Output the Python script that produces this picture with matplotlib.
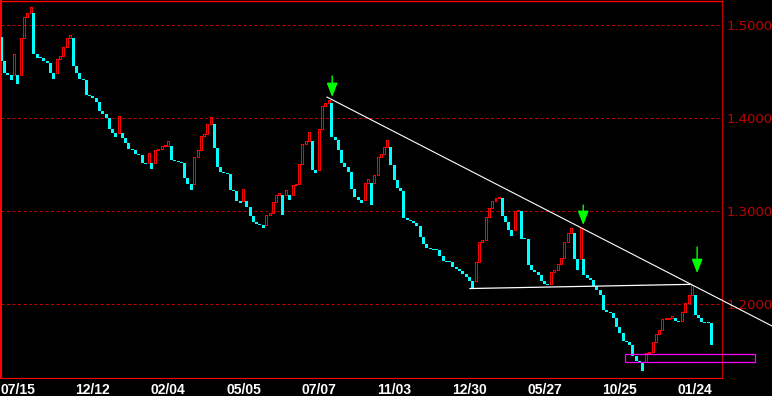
import matplotlib
matplotlib.use("Agg")
import matplotlib.pyplot as plt
from matplotlib.patches import Rectangle

# line-break chart: each column is one "line", the close of that line
first_open = 1.4874
closes = [
    1.4616, 1.4490, 1.4469, 1.4412, 1.4691, 1.4369, 1.4863, 1.5089, 1.5129, 1.5197,
    1.4691, 1.4652, 1.4648, 1.4616, 1.4591, 1.4490, 1.4423, 1.4638, 1.4670, 1.4767,
    1.4863, 1.4896, 1.4562, 1.4487, 1.4423, 1.4417, 1.4250, 1.4240, 1.4218, 1.4175,
    1.4078, 1.4046, 1.4003, 1.3885, 1.3842, 1.3799, 1.4025, 1.3788, 1.3734, 1.3670,
    1.3659, 1.3616, 1.3605, 1.3519, 1.3509, 1.3627, 1.3455, 1.3659, 1.3670, 1.3702,
    1.3707, 1.3756, 1.3552, 1.3541, 1.3535, 1.3519, 1.3358, 1.3293, 1.3229, 1.3584,
    1.3659, 1.3810, 1.3831, 1.3939, 1.4014, 1.3681, 1.3476, 1.3422, 1.3417, 1.3401,
    1.3229, 1.3224, 1.3111, 1.3089, 1.3240, 1.3046, 1.2949, 1.2885, 1.2863, 1.2853,
    1.2820, 1.2960, 1.2982, 1.3100, 1.3175, 1.3197, 1.2960, 1.3229, 1.3121, 1.3283,
    1.3293, 1.3509, 1.3724, 1.3756, 1.3853, 1.3444, 1.3412, 1.3885, 1.4132, 1.4164,
    1.4197, 1.3799, 1.3767, 1.3659, 1.3519, 1.3476, 1.3422, 1.3240, 1.3154, 1.3121,
    1.3089, 1.3304, 1.3347, 1.3068, 1.3390, 1.3584, 1.3616, 1.3691, 1.3767, 1.3498,
    1.3336, 1.3250, 1.3218, 1.2928, 1.2906, 1.2896, 1.2874, 1.2842, 1.2724, 1.2648,
    1.2605, 1.2595, 1.2584, 1.2581, 1.2519, 1.2465, 1.2455, 1.2452, 1.2401, 1.2379,
    1.2358, 1.2326, 1.2293, 1.2250, 1.2175, 1.2455, 1.2670, 1.2691, 1.2939, 1.3035,
    1.3111, 1.3143, 1.3154, 1.2949, 1.2885, 1.2799, 1.2734, 1.3003, 1.3014, 1.2702,
    1.2699, 1.2422, 1.2369, 1.2347, 1.2315, 1.2250, 1.2218, 1.2207, 1.2347, 1.2369,
    1.2433, 1.2498, 1.2670, 1.2767, 1.2820, 1.2487, 1.2369, 1.2820, 1.2315, 1.2283,
    1.2261, 1.2197, 1.2154, 1.2100, 1.1939, 1.1917, 1.1906, 1.1853, 1.1756, 1.1691,
    1.1605, 1.1594, 1.1562, 1.1444, 1.1390, 1.1379, 1.1283, 1.1476, 1.1487, 1.1594,
    1.1680, 1.1724, 1.1842, 1.1845, 1.1848, 1.1874, 1.1820, 1.1810, 1.1917, 1.2014,
    1.2100, 1.2207, 1.1885, 1.1853, 1.1810, 1.1804, 1.1799, 1.1562,
]

date_labels = ["07/15", "12/12", "02/04", "05/05", "07/07",
               "11/03", "12/30", "05/27", "10/25", "01/24"]
label_cols = [5, 28, 51, 74, 97, 120, 143, 166, 189, 212]
price_ticks = [1.2, 1.3, 1.4, 1.5]

# drawn annotations (column index, price)
trend_x = [99.5, 235.5]
trend_y = [1.4229, 1.1767]
support_x = [143.2, 210.4]
support_y = [1.2170, 1.2215]
arrow_x = [101.1, 177.8, 212.6]
arrow_tip = [1.4229, 1.2853, 1.2336]
arrow_len = [0.0226, 0.0215, 0.0280]
box_x = [190.6, 230.3]
box_y = [1.1379, 1.1465]

W, H = 772, 396
fig = plt.figure(figsize=(W / 100, H / 100), dpi=100, facecolor="black")
ax = fig.add_axes([1 / W, 18 / H, 721 / W, 377.5 / H])
ax.set_facecolor("black")
ax.set_xlim(-0.08, 220.2)
ax.set_ylim(1.1208, 1.5267)

one_px = (1.5267 - 1.1208) / 377.5

# work out where each line starts (line break rules)
opens = []
for i, c in enumerate(closes):
    if i == 0:
        o = first_open
    else:
        pc, po = closes[i - 1], opens[i - 1]
        up = c > pc
        prev_up = pc > po
        o = pc if up == prev_up else po
    opens.append(o)

for t in price_ticks:
    ax.axhline(t, color="#c00000", lw=0.72, ls=(0, (3, 2.5)), zorder=1)

for i, (o, c) in enumerate(zip(opens, closes)):
    lo, hi = min(o, c), max(o, c)
    if hi - lo < one_px:
        hi = lo + one_px
    if c > o:
        ax.add_patch(Rectangle((i - 0.305, lo), 0.61, hi - lo, fill=False,
                               edgecolor="#ff0000", lw=0.72, zorder=3,
                               antialiased=False))
    else:
        ax.add_patch(Rectangle((i - 0.458, lo), 0.917, hi - lo,
                               facecolor="#00ffff", lw=0, zorder=3,
                               antialiased=False))

ax.plot(trend_x, trend_y, color="white", lw=0.8, clip_on=False, zorder=4)
ax.plot(support_x, support_y, color="white", lw=0.9, zorder=4)
ax.add_patch(Rectangle((box_x[0], box_y[0]), box_x[1] - box_x[0], box_y[1] - box_y[0],
                       fill=False, edgecolor="#ff00ff", lw=0.9, clip_on=False,
                       zorder=5))

for x, tip, ln in zip(arrow_x, arrow_tip, arrow_len):
    ax.annotate("", xy=(x, tip), xytext=(x, tip + ln),
                arrowprops=dict(arrowstyle="-|>,head_length=0.85,head_width=0.33",
                                mutation_scale=10, color="#00ff00", lw=1,
                                shrinkA=0, shrinkB=0), zorder=6)

for side in ["left", "top", "bottom"]:
    ax.spines[side].set_color("#ff0000")
ax.spines["left"].set_linewidth(1.5)
ax.spines["top"].set_linewidth(1.0)
ax.spines["bottom"].set_linewidth(0.8)
ax.spines["right"].set_color("#c00000")
ax.spines["right"].set_linewidth(0.8)

ax.yaxis.tick_right()
ax.set_yticks(price_ticks)
ax.set_yticklabels(["%.4f" % t for t in price_ticks],
                   family=["Liberation Sans Narrow", "DejaVu Sans"])
ax.tick_params(axis="y", length=0, pad=3.6, labelcolor="#c00000", labelsize=9.5)

ax.set_xticks(label_cols)
ax.set_xticklabels(date_labels, family=["Liberation Sans", "DejaVu Sans"],
                   fontweight="bold")
ax.tick_params(axis="x", length=0, pad=3.5, labelcolor="white", labelsize=10)

fig.savefig("out.png", dpi=100, facecolor="black")
